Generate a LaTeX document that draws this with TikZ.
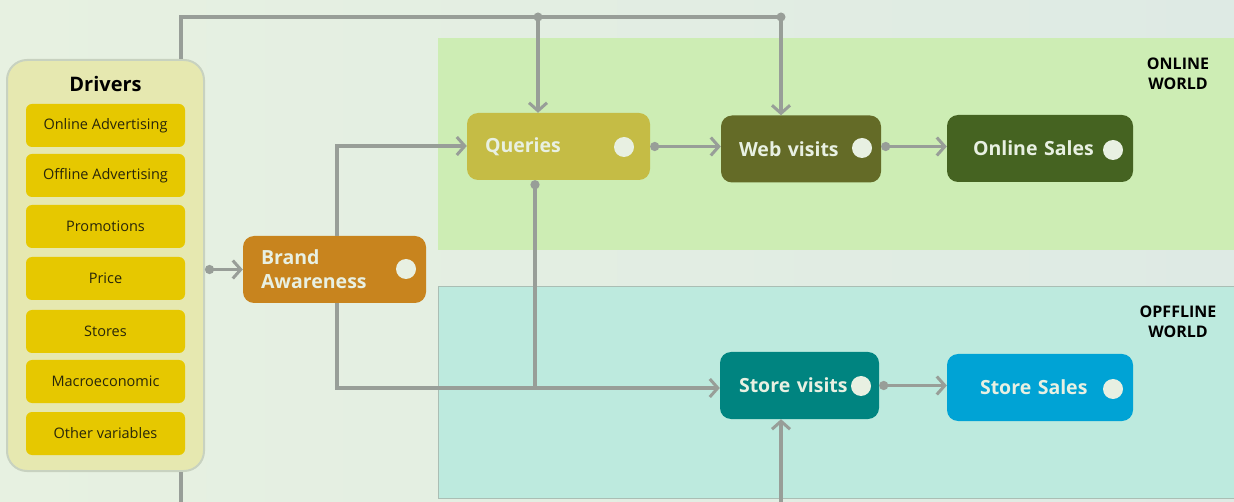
\documentclass[tikz,border=0pt]{standalone}
\usepackage{fontspec}
\setmainfont{Open Sans}
\usetikzlibrary{arrows.meta,calc}
\definecolor{bgL}{RGB}{231,241,225}
\definecolor{bgR}{RGB}{222,234,228}
\definecolor{onl}{RGB}{205,237,180}
\definecolor{offl}{RGB}{189,234,222}
\definecolor{offbd}{RGB}{170,190,180}
\definecolor{drvbg}{RGB}{230,232,176}
\definecolor{drvbd}{RGB}{200,210,192}
\definecolor{drvbox}{RGB}{230,200,0}
\definecolor{conn}{RGB}{152,158,152}
\definecolor{brand}{RGB}{200,132,30}
\definecolor{qry}{RGB}{197,188,69}
\definecolor{web}{RGB}{100,107,39}
\definecolor{osale}{RGB}{69,99,33}
\definecolor{svis}{RGB}{0,132,128}
\definecolor{ssale}{RGB}{0,163,213}
\definecolor{txtw}{RGB}{232,240,226}
\definecolor{drvtxt}{RGB}{40,38,10}
\tikzset{
  drvitem/.style={fill=drvbox,rounded corners=6pt,minimum width=159pt,minimum height=43pt,
    inner sep=0pt,font=\fontsize{14.5}{17}\selectfont,text=drvtxt},
  stage/.style={rounded corners=11pt,minimum height=67pt,text=txtw,align=left,
    font=\bfseries\fontsize{19.5}{24}\selectfont,inner ysep=0pt},
  dotc/.style={circle,fill=txtw,minimum size=20pt,inner sep=0pt},
  jdot/.style={circle,fill=conn,minimum size=9pt,inner sep=0pt},
  wlabel/.style={font=\bfseries\fontsize{16}{20}\selectfont,align=center,text=black},
  conn/.style={draw=conn,line width=3.4pt},
  arr/.style={conn,-{Straight Barb[length=8pt,width=18pt,line width=3pt]}},
  darr/.style={conn,{Circle[length=9pt]}-{Straight Barb[length=8pt,width=18pt,line width=3pt]}},
}
\begin{document}
\begin{tikzpicture}[x=1pt,y=-1pt]
\useasboundingbox (0,0) rectangle (1234,502);
\shade[left color=bgL,right color=bgR] (0,0) rectangle (1234,502);
% panels
\fill[onl] (438,38) rectangle (1234,250);
\path[fill=offl,draw=offbd,line width=0.8pt] (1234,286) -- (438,286) -- (438,498) -- (1234,498);
\node[wlabel] (onlab) at (1178,74) {ONLINE\\WORLD};
\node[wlabel] (offlab) at (1178,322) {OPFFLINE\\WORLD};
% drivers
\node[fill=drvbg,draw=drvbd,line width=2pt,rounded corners=20pt,minimum width=197pt,minimum height=411pt,inner sep=0pt] (drivers) at (105.5,265.5) {};
\node[font=\bfseries\fontsize{20}{24}\selectfont,text=black] (dtitle) at (105.5,84) {Drivers};
\node[drvitem] (d1) at (105.5,125.5) {Online Advertising};
\node[drvitem] (d2) at (105.5,175.5) {Offline Advertising};
\node[drvitem] (d3) at (105.5,226.5) {Promotions};
\node[drvitem] (d4) at (105.5,278.5) {Price};
\node[drvitem] (d5) at (105.5,331.5) {Stores};
\node[drvitem] (d6) at (105.5,381.5) {Macroeconomic};
\node[drvitem] (d7) at (105.5,433.5) {Other variables};
% stages
\node[stage,fill=brand,minimum width=183pt,inner xsep=18pt,text width=147pt] (brand) at (334.5,269.5) {Brand\\Awareness};
\node[stage,fill=qry,minimum width=183pt,inner xsep=18pt,text width=147pt] (qry) at (558.5,146.5) {Queries};
\node[stage,fill=web,minimum width=160pt,inner xsep=18pt,text width=124pt] (web) at (801,149) {Web visits};
\node[stage,fill=osale,minimum width=186pt,inner xsep=26pt,text width=134pt] (osale) at (1040,148.5) {Online Sales};
\node[stage,fill=svis,minimum width=159pt,inner xsep=19pt,text width=121pt] (svis) at (799.5,385.5) {Store visits};
\node[stage,fill=ssale,minimum width=186pt,inner xsep=33pt,text width=120pt] (ssale) at (1040,387.5) {Store Sales};
% circles
\node[dotc] (c1) at (406,269) {};
\node[dotc] (c2) at (624,147) {};
\node[dotc] (c3) at (862,148) {};
\node[dotc] (c4) at (1113,150) {};
\node[dotc] (c5) at (861,386) {};
\node[dotc] (c6) at (1113,389) {};
% junction coordinates
\coordinate (tl) at (181,17);
\coordinate (jq) at (538,17);
\coordinate (jw) at (781,17);
\coordinate (bx) at (337,146);
\coordinate (by) at (337,388);
\coordinate (qx) at (535,388);
\coordinate (bot) at (781,502);
\coordinate (dbot) at (181,502);
% connectors
\draw[conn] (tl |- drivers.north) -- (tl) -- (jw);
\draw[arr] (jq) -- (jq |- qry.north);
\draw[arr] (jw) -- (jw |- web.north);
\node[jdot] (jqd) at (jq) {};
\node[jdot] (jwd) at (jw) {};
\draw[conn] (tl |- drivers.south) -- (dbot);
\draw[darr] (drivers.east |- brand.west) -- (brand.west);
\draw[arr] (bx |- brand.north) -- (bx) -- (qry.west |- bx);
\draw[arr] (by |- brand.south) -- (by) -- (svis.west |- by);
\draw[conn,{Circle[length=9pt]}-] (qx |- qry.south) -- (qx);
\draw[darr] (qry.east) -- (web.west |- qry.east);
\draw[darr] (web.east |- qry.east) -- (osale.west |- qry.east);
\draw[darr] (svis.east) -- (ssale.west |- svis.east);
\draw[arr] (bot) -- (svis.south -| bot);
\end{tikzpicture}
\end{document}
